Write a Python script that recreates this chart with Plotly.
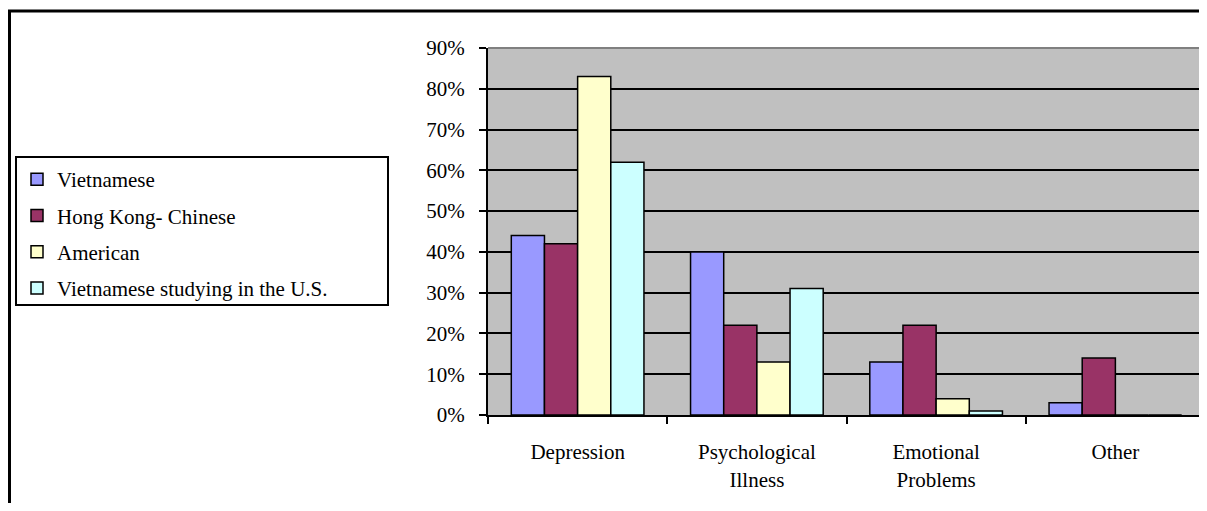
import plotly.graph_objects as go

categories = ["Depression", "Psychological<br>Illness", "Emotional<br>Problems", "Other"]
series_names = ["Vietnamese", "Hong Kong- Chinese", "American", "Vietnamese studying in the U.S."]
vietnamese = [0.44, 0.40, 0.13, 0.03]
hong_kong_chinese = [0.42, 0.22, 0.22, 0.14]
american = [0.83, 0.13, 0.04, 0.0]
vietnamese_us = [0.62, 0.31, 0.01, 0.0]
colors = ["#9999FF", "#993366", "#FFFFCC", "#CCFFFF"]
y_ticks = [0, 0.1, 0.2, 0.3, 0.4, 0.5, 0.6, 0.7, 0.8, 0.9]

font_family = "Liberation Serif, Times New Roman, serif"

fig = go.Figure()
for i, (name, vals) in enumerate(zip(series_names, [vietnamese, hong_kong_chinese, american, vietnamese_us])):
    fig.add_trace(go.Bar(
        x=categories, y=vals, name=name,
        marker=dict(color=colors[i], line=dict(color="black", width=1.5)),
        legendgroup=f"g{i}",
    ))

OFF = 8  # page body margin
W, H = 1199, 495
PL, PR, PT, PB = 488, 1205, 48, 415
ml = PL - OFF
mt = PT - OFF
mr = W - (PR - OFF)
mb = H - (PB - OFF)
pw = PR - PL
ph = PB - PT

def px_x(x):
    return (x - PL) / pw

def px_y(y):
    return (PB - y) / ph

shapes = [
    dict(type="line", xref="paper", yref="paper", x0=px_x(9.5), x1=px_x(9.5), y0=px_y(10), y1=px_y(530),
         line=dict(color="black", width=3)),
    dict(type="line", xref="paper", yref="paper", x0=px_x(8), x1=px_x(1220), y0=px_y(11), y1=px_y(11),
         line=dict(color="black", width=3)),
    dict(type="line", xref="paper", yref="paper", x0=0, x1=1, y0=1, y1=1,
         line=dict(color="#808080", width=2)),
    dict(type="line", xref="paper", yref="paper", x0=1, x1=1, y0=0, y1=1,
         line=dict(color="#808080", width=2)),
    dict(type="rect", xref="paper", yref="paper", x0=px_x(16), x1=px_x(388), y0=px_y(157), y1=px_y(305),
         line=dict(color="black", width=2), fillcolor="rgba(0,0,0,0)", layer="below"),
]

fig.update_layout(
    width=W, height=H,
    margin=dict(l=ml, r=mr, t=mt, b=mb, pad=0),
    paper_bgcolor="white",
    plot_bgcolor="#C0C0C0",
    barmode="group",
    bargap=0.26,
    bargroupgap=0,
    font=dict(family=font_family, size=21, color="black"),
    showlegend=True,
    legend=dict(
        x=px_x(17), y=px_y(159), xanchor="left", yanchor="top",
        xref="paper", yref="paper",
        borderwidth=0, bgcolor="rgba(0,0,0,0)",
        font=dict(family=font_family, size=21, color="black"),
        tracegroupgap=6, traceorder="grouped",
        itemwidth=30,
    ),
    shapes=shapes,
)

fig.update_yaxes(
    range=[0, 0.9], tickvals=y_ticks, tickformat=".0%",
    showgrid=True, gridcolor="black", gridwidth=1.5,
    showline=True, linecolor="black", linewidth=2,
    ticks="outside", ticklen=7, tickcolor="black", tickwidth=2,
    ticklabelstandoff=10, zeroline=False, automargin=False,
)
fig.update_xaxes(
    showline=True, linecolor="black", linewidth=2,
    ticks="outside", ticklen=7, tickcolor="black", tickwidth=2,
    tickson="boundaries", ticklabelstandoff=17,
    showgrid=False, automargin=False,
)

fig.write_html("out.html")
